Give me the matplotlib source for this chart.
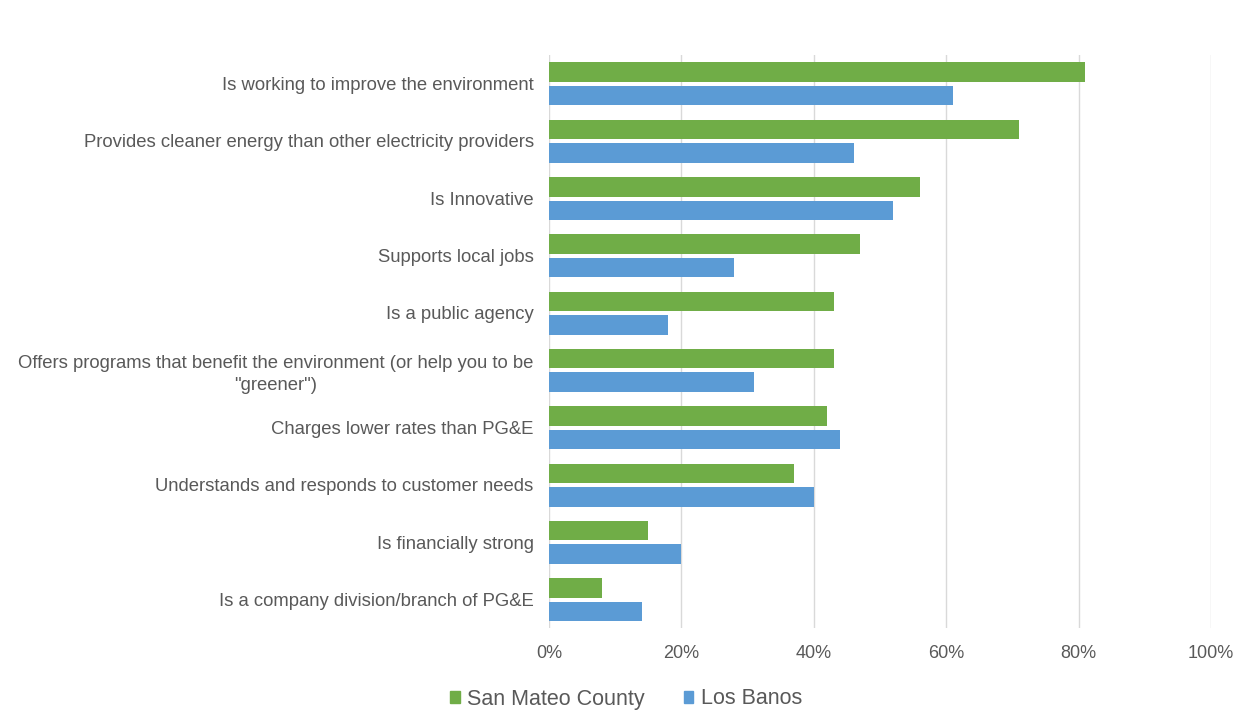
import matplotlib.pyplot as plt
import numpy as np
from matplotlib.patches import Patch

# categories, top to bottom
categories = [
    "Is working to improve the environment",
    "Provides cleaner energy than other electricity providers",
    "Is Innovative",
    "Supports local jobs",
    "Is a public agency",
    "Offers programs that benefit the environment (or help you to be\n\"greener\")",
    "Charges lower rates than PG&E",
    "Understands and responds to customer needs",
    "Is financially strong",
    "Is a company division/branch of PG&E",
]
san_mateo = [81, 71, 56, 47, 43, 43, 42, 37, 15, 8]
los_banos = [61, 46, 52, 28, 18, 31, 44, 40, 20, 14]
series_names = ["San Mateo County", "Los Banos"]

green = "#70AD47"
blue = "#5B9BD5"
text_col = "#595959"

plt.rcParams['font.family'] = ['Liberation Sans', 'DejaVu Sans']

fig = plt.figure(figsize=(12.45, 7.21), dpi=100)
ax = fig.add_axes([549 / 1245, 1 - 628 / 721, (1211 - 549) / 1245, (628 - 55) / 721])

y = np.arange(len(categories))
h = 0.34
ax.barh(y - 0.2, san_mateo, height=h, color=green, zorder=2)
ax.barh(y + 0.21, los_banos, height=h, color=blue, zorder=2)

ax.set_xlim(0, 100)
ax.set_ylim(len(categories) - 0.5, -0.5)
ax.set_xticks(range(0, 101, 20))
ax.set_xticklabels([f"{v}%" for v in range(0, 101, 20)], fontsize=13)
ax.set_yticks(y)
ax.set_yticklabels(categories, multialignment='center', linespacing=1.35, fontsize=13.3)
ax.tick_params(length=0, colors=text_col)
ax.tick_params(axis='y', pad=11)
ax.tick_params(axis='x', pad=12)

ax.grid(axis='x', color='#D9D9D9', linewidth=1, zorder=0)
for s in ax.spines.values():
    s.set_visible(False)

# legend at the bottom
handles = [Patch(color=green, label=series_names[0]),
           Patch(color=blue, label=series_names[1])]
fig.legend(handles=handles, loc='center', bbox_to_anchor=(626 / 1245, 1 - 699 / 721),
           ncol=2, frameon=False, fontsize=15.5, labelcolor=text_col,
           handlelength=0.45, handleheight=0.45, handletextpad=0.35, columnspacing=1.8)

fig.savefig("out.png", dpi=100)
